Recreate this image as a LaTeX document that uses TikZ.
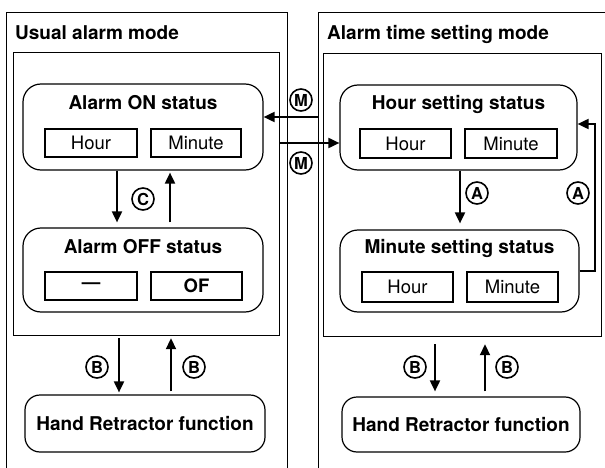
\documentclass[tikz,border=0pt]{standalone}
\usepackage{fontspec}
\setmainfont{TeX Gyre Heros}
\usetikzlibrary{arrows.meta,calc}
\begin{document}
\begin{tikzpicture}[x=1pt,y=-1pt,
  frame/.style={draw,line width=1.2pt,inner sep=0pt,anchor=north west},
  sbox/.style={draw,line width=1.2pt,rounded corners=18pt,inner sep=0pt},
  hrbox/.style={draw,line width=1.2pt,rounded corners=15pt,inner sep=0pt,
     font=\bfseries\fontsize{19}{22}\selectfont},
  cell/.style={draw,line width=1.2pt,inner sep=0pt,minimum height=28pt,
     font=\fontsize{18.5}{22}\selectfont},
  ttl/.style={inner sep=0pt,font=\bfseries\fontsize{19}{22}\selectfont},
  circ/.style={circle,draw,line width=1.6pt,inner sep=0pt,minimum size=22pt,
     font=\bfseries\fontsize{16.5}{18}\selectfont},
  arr/.style={-{Triangle[length=11pt,width=10pt]},line width=1.9pt}]
\useasboundingbox (0,0) rectangle (605,468);
\clip (0,0) rectangle (605,468);
\fill[white] (0,0) rectangle (605,468);
% outer frames
\node[frame,minimum width=281pt,minimum height=480pt] (lout) at (6,12) {};
\node[frame,minimum width=300pt,minimum height=480pt] (rout) at (318,12) {};
\node[ttl,anchor=base west] (ltitle) at (15,40) {Usual alarm mode};
\node[ttl,anchor=base west] (rtitle) at (327,40) {Alarm time setting mode};
% inner frames
\node[frame,minimum width=266pt,minimum height=283pt] (lin) at (13,52) {};
\node[frame,minimum width=278pt,minimum height=283pt] (rin) at (323,53) {};
% left status boxes
\node[sbox,minimum width=240pt,minimum height=86pt] (on) at (143,127) {};
\node[ttl,anchor=base] (ontitle) at (143,110) {Alarm ON status};
\node[cell,minimum width=92pt] (onh) at (91,143) {Hour};
\node[cell,minimum width=90pt] (onm) at (196,143) {Minute};
\node[sbox,minimum width=240pt,minimum height=84pt] (off) at (143,270) {};
\node[ttl,anchor=base] (offtitle) at (143,253) {Alarm OFF status};
\node[cell,minimum width=92pt] (offh) at (91,286) {\bfseries —};
\node[cell,minimum width=91pt] (offm) at (196.5,286) {\bfseries OF};
\node[hrbox,minimum width=240pt,minimum height=57pt] (hrl) at (145,423.5) {Hand Retractor function};
% right status boxes
\node[sbox,minimum width=237pt,minimum height=85pt] (hs) at (458.5,127.5) {};
\node[ttl,anchor=base] (hstitle) at (458.5,110) {Hour setting status};
\node[cell,minimum width=91pt,minimum height=29pt] (hsh) at (405.5,143.5) {Hour};
\node[cell,minimum width=92pt,minimum height=29pt] (hsm) at (511,143.5) {Minute};
\node[sbox,minimum width=239pt,minimum height=82pt] (ms) at (459.5,271) {};
\node[ttl,anchor=base] (mstitle) at (459.5,253) {Minute setting status};
\node[cell,minimum width=91pt,minimum height=30pt] (msh) at (407.5,287) {Hour};
\node[cell,minimum width=91pt,minimum height=30pt] (msm) at (512.5,287) {Minute};
\node[hrbox,minimum width=238pt,minimum height=55pt] (hrr) at (461,424.5) {Hand Retractor function};
% helper coordinates
\coordinate (c1) at (117,0);
\coordinate (c2) at (170,0);
\coordinate (a1) at (460,0);
\coordinate (lp) at (595,124);
\coordinate (bl1) at (119,0);
\coordinate (bl2) at (171,0);
\coordinate (br1) at (435,0);
\coordinate (br2) at (485,0);
\coordinate (m1) at (0,117);
\coordinate (m2) at (0,143);
% connectors
\draw[arr,shorten >=5pt] (c1 |- on.south) -- (c1 |- off.north);
\draw[arr,shorten <=5pt,shorten >=2pt] (c2 |- off.north) -- (c2 |- on.south);
\draw[arr,shorten >=6pt] (a1 |- hs.south) -- (a1 |- ms.north);
\draw[arr] (ms.east) -| (lp) -- (lp -| hs.east);
\draw[arr,shorten <=2pt,shorten >=2pt] (bl1 |- lin.south) -- (bl1 |- hrl.north);
\draw[arr,shorten <=3pt,shorten >=2pt] (bl2 |- hrl.north) -- (bl2 |- lin.south);
\draw[arr,shorten <=7pt,shorten >=5pt] (br1 |- rin.south) -- (br1 |- hrr.north);
\draw[arr,shorten <=5pt,shorten >=7pt] (br2 |- hrr.north) -- (br2 |- rin.south);
\draw[arr] (m1 -| rout.west) -- (m1 -| on.east);
\draw[arr] (m2 -| lin.east) -- (m2 -| hs.west);
% circled labels
\node[circ] (lm1) at (301,100) {M};
\node[circ] (lm2) at (301,163) {M};
\node[circ] (lc) at (143,199) {C};
\node[circ] (la1) at (477,193) {A};
\node[circ] (la2) at (578,193) {A};
\node[circ] (lb1) at (97,367) {B};
\node[circ] (lb2) at (194,367) {B};
\node[circ] (lb3) at (415,367) {B};
\node[circ] (lb4) at (507,367) {B};
\end{tikzpicture}
\end{document}
